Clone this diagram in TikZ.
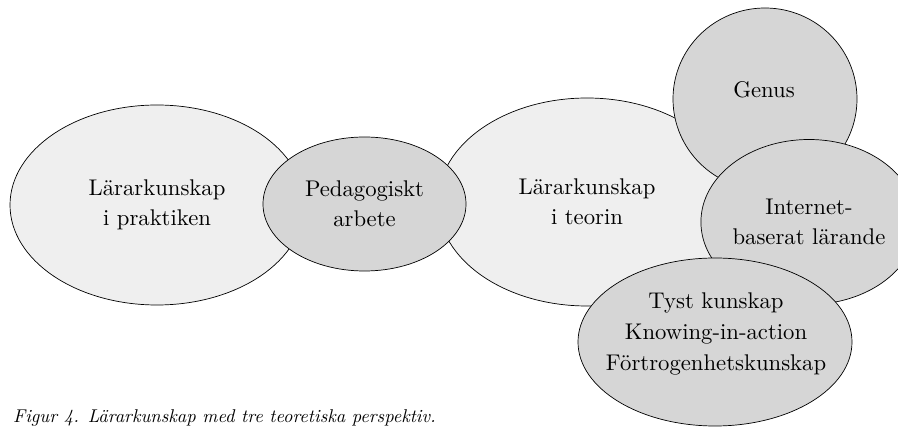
\documentclass[tikz,border=0pt]{standalone}
\usepackage{fontspec}
\setmainfont{lmroman10-regular.otf}[ItalicFont=lmroman10-italic.otf]
\usetikzlibrary{shapes.geometric}
\definecolor{lightfill}{HTML}{EFEFEF}
\definecolor{darkfill}{HTML}{D6D6D6}
\tikzset{
  bubble/.style={ellipse, draw=black, line width=0.7pt, inner sep=0pt, align=center,
    font=\fontsize{22.7}{29.5}\selectfont},
  lightbubble/.style={bubble, fill=lightfill},
  darkbubble/.style={bubble, fill=darkfill},
}
\begin{document}
\begin{tikzpicture}[x=1pt,y=-1pt]
\useasboundingbox (0,0) rectangle (898,427);
\clip (0,0) rectangle (898,427);
\node[lightbubble, minimum width=294pt, minimum height=200pt] (prak) at (157,205) {Lärarkunskap\\i praktiken};
\node[lightbubble, minimum width=298pt, minimum height=208pt] (teori) at (587,202) {Lärarkunskap\\i teorin};
\node[darkbubble, minimum width=203pt, minimum height=134pt] (ped) at (364.5,204) {Pedagogiskt\\arbete};
\node[darkbubble, minimum width=184pt, minimum height=182pt] (genus) at (765,99) {};
\node[font=\fontsize{22.7}{29.5}\selectfont] (genustxt) at (764,90) {Genus};
\node[darkbubble, minimum width=212pt, minimum height=165pt] (inet) at (809,222) {Internet-\\baserat lärande};
\node[darkbubble, minimum width=274pt, minimum height=168pt] (tyst) at (715,342) {};
\node[font=\fontsize{22.7}{31}\selectfont, align=center] (tysttxt) at (716,334) {Tyst kunskap\\Knowing-in-action\\Förtrogenhetskunskap};
\node[anchor=base west, font=\fontsize{18.5}{22}\selectfont\itshape, inner sep=0pt] (cap) at (13,423) {Figur 4. Lärarkunskap med tre teoretiska perspektiv.};
\end{tikzpicture}
\end{document}
